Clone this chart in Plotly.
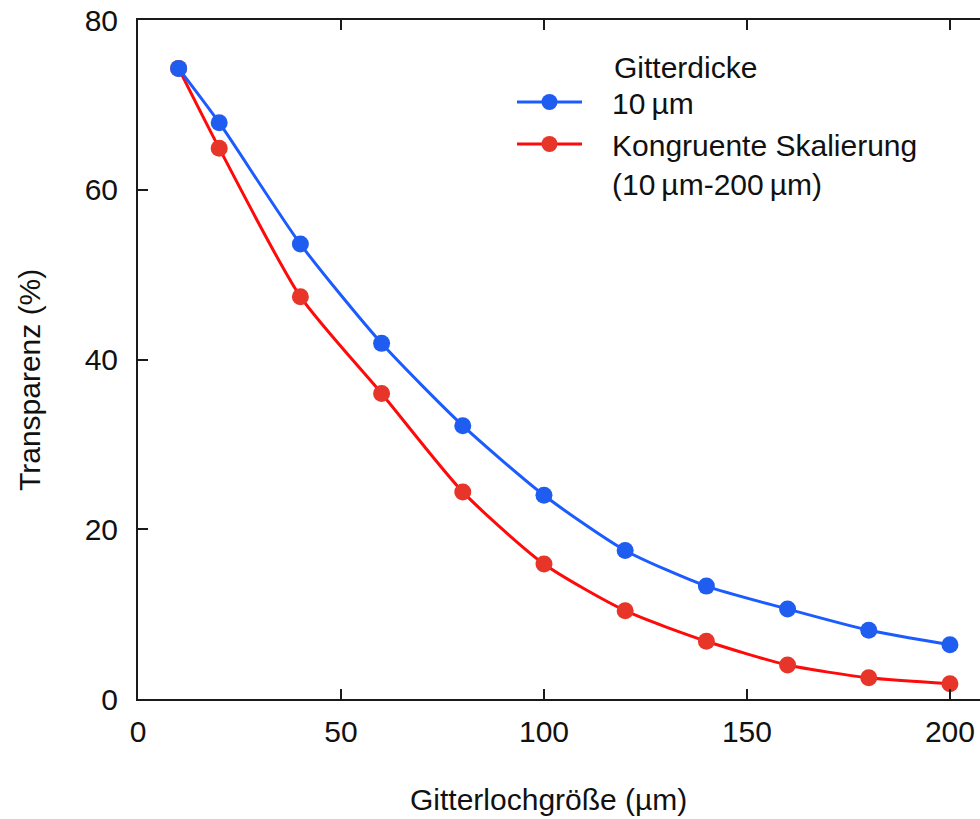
import plotly.graph_objects as go

# Data
x_vals = [10, 20, 40, 60, 80, 100, 120, 140, 160, 180, 200]
blue_y = [74.3, 67.9, 53.6, 41.9, 32.2, 24.0, 17.5, 13.3, 10.6, 8.1, 6.4]
red_y = [74.3, 64.9, 47.4, 36.0, 24.4, 15.9, 10.4, 6.8, 4.0, 2.5, 1.8]
PAD = "\u2002\u2004"
blue_name = PAD + "10\u2009µm"
red_name = PAD + "Kongruente Skalierung<br>" + PAD + "(10\u2009µm-200\u2009µm)"
legend_title = "Gitterdicke"
x_title = "Gitterlochgröße (µm)"
y_title = "Transparenz (%)"
x_ticks = [0, 50, 100, 150, 200]
y_ticks = [0, 20, 40, 60, 80]

FONT = "Liberation Sans, Arial, Helvetica, sans-serif"
FS = 30
W, H = 980, 819
ML, MT, MB, MR = 138, 20, 120, 0
PW, PH = W - ML - MR, H - MT - MB

fig = go.Figure()
fig.add_trace(go.Scatter(
    x=x_vals, y=red_y, name=red_name, mode="lines+markers",
    line=dict(color="#ff0a0a", width=3, shape="spline", smoothing=0.65),
    marker=dict(color="#e8352a", size=17),
    legendrank=2, legendgroup="r",
))
fig.add_trace(go.Scatter(
    x=x_vals, y=blue_y, name=blue_name, mode="lines+markers",
    line=dict(color="#1c5cff", width=3, shape="spline", smoothing=0.65),
    marker=dict(color="#1f5cf0", size=17),
    legendrank=1, legendgroup="b",
))

axis_common = dict(
    showline=True, linecolor="#1a1a1a", linewidth=2,
    ticks="inside", ticklen=10, tickwidth=2, tickcolor="#1a1a1a",
    showgrid=False, zeroline=False,
    tickfont=dict(family=FONT, size=FS, color="#111"),
)

fig.update_layout(
    width=W, height=H,
    margin=dict(l=ML, r=MR, t=MT, b=MB, pad=0),
    paper_bgcolor="white", plot_bgcolor="white",
    font=dict(family=FONT, size=FS, color="#111"),
    showlegend=True,
    legend=dict(
        x=(512 - ML) / PW, y=(H - MB - 76) / PH,
        xanchor="left", yanchor="top",
        bgcolor="rgba(0,0,0,0)", borderwidth=0,
        font=dict(family=FONT, size=FS, color="#111"),
        itemwidth=65, valign="top", tracegroupgap=0,
        traceorder="grouped",
    ),
    xaxis=dict(
        range=[0, 207.4], tickvals=x_ticks, mirror="ticks",
        ticklabelstandoff=5, **axis_common,
    ),
    yaxis=dict(
        range=[0, 80], tickvals=y_ticks, mirror=False,
        ticklabelstandoff=12, **axis_common,
    ),
    yaxis2=dict(
        range=[0, 80], tickvals=y_ticks, overlaying="y", side="right",
        showline=False, ticks="inside", ticklen=3, tickwidth=2, tickcolor="#1a1a1a",
        showticklabels=False, showgrid=False, zeroline=False,
    ),
    annotations=[
        dict(text=x_title, xref="paper", yref="paper",
             x=(548 - ML) / PW, y=-(800 - (H - MB)) / PH,
             xanchor="center", yanchor="middle", showarrow=False,
             font=dict(family=FONT, size=FS, color="#111")),
        dict(text=y_title, xref="paper", yref="paper", textangle=-90,
             x=-(ML - 29) / PW, y=(H - MB - 380) / PH,
             xanchor="center", yanchor="middle", showarrow=False,
             font=dict(family=FONT, size=FS, color="#111")),
        dict(text=legend_title, xref="paper", yref="paper",
             x=(612 - ML) / PW, y=(H - MB - 68) / PH,
             xanchor="left", yanchor="middle", showarrow=False,
             font=dict(family=FONT, size=FS, color="#111")),
    ],
)

fig.write_html("out.html")
